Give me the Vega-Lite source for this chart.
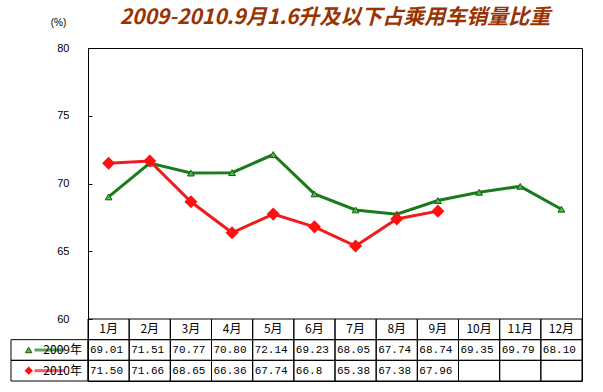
{
  "$schema": "https://vega.github.io/schema/vega-lite/v6.json",
  "width": 494,
  "height": 333,
  "autosize": {"type": "none"},
  "padding": {"left": 88, "top": 48, "right": 21, "bottom": 11},
  "background": "white",
  "config": {"view": {"stroke": "black", "strokeWidth": 1}, "font": "Liberation Sans"},
  "title": {
    "text": "2009-2010.9月1.6升及以下占乘用车销量比重",
    "anchor": "middle",
    "offset": -11,
    "font": "Noto Sans CJK SC",
    "fontSize": 21,
    "fontStyle": "italic",
    "fontWeight": "bold",
    "color": "#993300"
  },
  "datasets": {
    "table": [
      {"month": "1月", "row": "月份", "label": "1月"},
      {"month": "2月", "row": "月份", "label": "2月"},
      {"month": "3月", "row": "月份", "label": "3月"},
      {"month": "4月", "row": "月份", "label": "4月"},
      {"month": "5月", "row": "月份", "label": "5月"},
      {"month": "6月", "row": "月份", "label": "6月"},
      {"month": "7月", "row": "月份", "label": "7月"},
      {"month": "8月", "row": "月份", "label": "8月"},
      {"month": "9月", "row": "月份", "label": "9月"},
      {"month": "10月", "row": "月份", "label": "10月"},
      {"month": "11月", "row": "月份", "label": "11月"},
      {"month": "12月", "row": "月份", "label": "12月"},
      {"month": "1月", "row": "2009年", "value": 69.01, "label": "69.01"},
      {"month": "2月", "row": "2009年", "value": 71.51, "label": "71.51"},
      {"month": "3月", "row": "2009年", "value": 70.77, "label": "70.77"},
      {"month": "4月", "row": "2009年", "value": 70.80, "label": "70.80"},
      {"month": "5月", "row": "2009年", "value": 72.14, "label": "72.14"},
      {"month": "6月", "row": "2009年", "value": 69.23, "label": "69.23"},
      {"month": "7月", "row": "2009年", "value": 68.05, "label": "68.05"},
      {"month": "8月", "row": "2009年", "value": 67.74, "label": "67.74"},
      {"month": "9月", "row": "2009年", "value": 68.74, "label": "68.74"},
      {"month": "10月", "row": "2009年", "value": 69.35, "label": "69.35"},
      {"month": "11月", "row": "2009年", "value": 69.79, "label": "69.79"},
      {"month": "12月", "row": "2009年", "value": 68.10, "label": "68.10"},
      {"month": "1月", "row": "2010年", "value": 71.50, "label": "71.50"},
      {"month": "2月", "row": "2010年", "value": 71.66, "label": "71.66"},
      {"month": "3月", "row": "2010年", "value": 68.65, "label": "68.65"},
      {"month": "4月", "row": "2010年", "value": 66.36, "label": "66.36"},
      {"month": "5月", "row": "2010年", "value": 67.74, "label": "67.74"},
      {"month": "6月", "row": "2010年", "value": 66.8, "label": "66.8"},
      {"month": "7月", "row": "2010年", "value": 65.38, "label": "65.38"},
      {"month": "8月", "row": "2010年", "value": 67.38, "label": "67.38"},
      {"month": "9月", "row": "2010年", "value": 67.96, "label": "67.96"},
      {"month": "10月", "row": "2010年", "label": ""},
      {"month": "11月", "row": "2010年", "label": ""},
      {"month": "12月", "row": "2010年", "label": ""}
    ],
    "legend": [
      {"row": "2009年", "col": "h"},
      {"row": "2010年", "col": "h"}
    ]
  },
  "layer": [
    {
      "data": {"name": "table"},
      "transform": [{"filter": "datum.row !== '月份' && isValid(datum.value)"}],
      "encoding": {
        "x": {
          "field": "month", "type": "ordinal",
          "sort": ["1月","2月","3月","4月","5月","6月","7月","8月","9月","10月","11月","12月"],
          "scale": {"type": "band", "paddingInner": 0, "paddingOuter": 0},
          "bandPosition": 0.5,
          "axis": null
        },
        "y": {
          "field": "value", "type": "quantitative",
          "scale": {"domain": [60, 80], "range": [271, 0], "nice": false, "zero": false},
          "axis": {
            "values": [60, 65, 70, 75, 80],
            "tickSize": -4,
            "tickColor": "black",
            "domainColor": "black",
            "grid": false,
            "labelFont": "Liberation Sans",
            "labelFontSize": 11,
            "labelColor": "black",
            "labelPadding": 23,
            "title": "(%)",
            "titleAngle": 0,
            "titleX": -30,
            "titleY": -26,
            "titleAlign": "center",
            "titleBaseline": "middle",
            "titleFont": "Liberation Sans",
            "titleFontWeight": "normal",
            "titleFontSize": 10,
            "titleColor": "black"
          }
        }
      },
      "layer": [
        {"transform": [{"filter": "datum.row === '2009年'"}], "mark": {"type": "line", "color": "#1B7A1B", "strokeWidth": 3}},
        {"transform": [{"filter": "datum.row === '2009年'"}], "mark": {"type": "point", "shape": "triangle-up", "filled": true, "fill": "#45C045", "stroke": "#145A14", "strokeWidth": 1, "size": 45, "opacity": 1}},
        {"transform": [{"filter": "datum.row === '2010年'"}], "mark": {"type": "line", "color": "#EE1C1C", "strokeWidth": 3}},
        {"transform": [{"filter": "datum.row === '2010年'"}], "mark": {"type": "point", "shape": "diamond", "filled": true, "color": "#FF1010", "size": 170, "opacity": 1}}
      ]
    },
    {
      "data": {"name": "table"},
      "encoding": {
        "x": {
          "field": "month", "type": "ordinal",
          "sort": ["1月","2月","3月","4月","5月","6月","7月","8月","9月","10月","11月","12月"],
          "scale": {"type": "band", "paddingInner": 0, "paddingOuter": 0},
          "axis": null
        },
        "y": {
          "field": "row", "type": "ordinal",
          "sort": ["月份", "2009年", "2010年"],
          "scale": {"type": "band", "domain": ["月份", "2009年", "2010年"], "range": [271, 333], "paddingInner": 0, "paddingOuter": 0},
          "axis": null
        }
      },
      "layer": [
        {"mark": {"type": "rect", "filled": false, "stroke": "black", "strokeWidth": 1}},
        {
          "transform": [{"filter": "datum.row === '月份'"}],
          "mark": {"type": "text", "align": "center", "baseline": "middle", "font": "Noto Sans CJK SC", "fontSize": 12, "color": "black"},
          "encoding": {
            "x": {
              "field": "month", "type": "ordinal",
              "sort": ["1月","2月","3月","4月","5月","6月","7月","8月","9月","10月","11月","12月"],
              "scale": {"type": "band", "paddingInner": 0, "paddingOuter": 0},
              "bandPosition": 0.5,
              "axis": null
            },
            "text": {"field": "label"}
          }
        },
        {
          "transform": [{"filter": "datum.row !== '月份'"}],
          "mark": {"type": "text", "align": "left", "baseline": "middle", "dx": 2, "font": "Liberation Mono", "fontSize": 11, "color": "black"},
          "encoding": {
            "x": {
              "field": "month", "type": "ordinal",
              "sort": ["1月","2月","3月","4月","5月","6月","7月","8月","9月","10月","11月","12月"],
              "scale": {"type": "band", "paddingInner": 0, "paddingOuter": 0},
              "bandPosition": 0,
              "axis": null
            },
            "text": {"field": "label"}
          }
        }
      ]
    },
    {
      "data": {"name": "legend"},
      "encoding": {
        "x": {
          "field": "col", "type": "nominal",
          "scale": {"type": "band", "range": [-77, 0], "paddingInner": 0, "paddingOuter": 0},
          "axis": null
        },
        "y": {
          "field": "row", "type": "ordinal",
          "sort": ["月份", "2009年", "2010年"],
          "scale": {"type": "band", "domain": ["月份", "2009年", "2010年"], "range": [271, 333], "paddingInner": 0, "paddingOuter": 0},
          "axis": null
        }
      },
      "layer": [
        {"mark": {"type": "rect", "filled": false, "stroke": "black", "strokeWidth": 1}},
        {
          "mark": {"type": "tick", "orient": "horizontal", "size": 30, "thickness": 3},
          "encoding": {
            "x": {"field": "col", "type": "nominal", "scale": {"type": "band", "range": [-77, 0], "paddingInner": 0, "paddingOuter": 0}, "bandPosition": 0.22, "axis": null},
            "color": {"field": "row", "type": "nominal", "scale": {"domain": ["2009年", "2010年"], "range": ["#1B7A1B", "#EE1C1C"]}, "legend": null}
          }
        },
        {
          "transform": [{"filter": "datum.row === '2009年'"}],
          "mark": {"type": "point", "shape": "triangle-up", "filled": true, "fill": "#45C045", "stroke": "#145A14", "strokeWidth": 1, "size": 40, "opacity": 1},
          "encoding": {
            "x": {"field": "col", "type": "nominal", "scale": {"type": "band", "range": [-77, 0], "paddingInner": 0, "paddingOuter": 0}, "bandPosition": 0.23, "axis": null}
          }
        },
        {
          "transform": [{"filter": "datum.row === '2010年'"}],
          "mark": {"type": "point", "shape": "diamond", "filled": true, "color": "#FF1010", "size": 70, "opacity": 1},
          "encoding": {
            "x": {"field": "col", "type": "nominal", "scale": {"type": "band", "range": [-77, 0], "paddingInner": 0, "paddingOuter": 0}, "bandPosition": 0.23, "axis": null}
          }
        },
        {
          "mark": {"type": "text", "align": "right", "baseline": "middle", "dx": -6, "font": "Noto Sans CJK SC", "fontSize": 12, "color": "black"},
          "encoding": {
            "x": {"field": "col", "type": "nominal", "scale": {"type": "band", "range": [-77, 0], "paddingInner": 0, "paddingOuter": 0}, "bandPosition": 1, "axis": null},
            "text": {"field": "row"}
          }
        }
      ]
    }
  ],
  "resolve": {"scale": {"x": "independent", "y": "independent", "color": "independent"}}
}
